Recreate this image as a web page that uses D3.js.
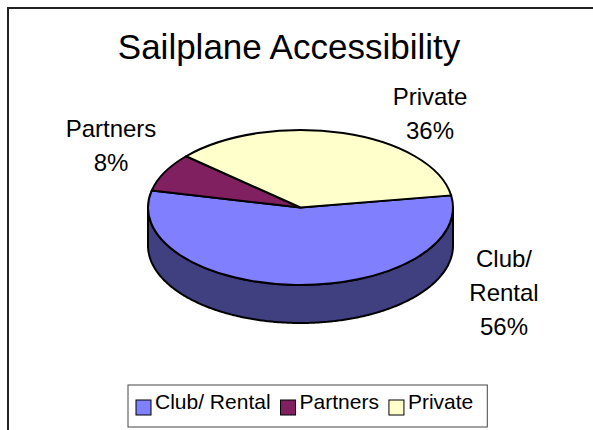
<!DOCTYPE html>
<html><head><meta charset="utf-8">
<script src="https://cdnjs.cloudflare.com/ajax/libs/d3/7.8.5/d3.min.js"></script>
<style>body{margin:0;background:#fff}svg{display:block}text{font-family:Arial,"Liberation Sans",sans-serif;fill:#000}</style>
</head><body>
<svg id="c" width="593" height="430"></svg>
<script>
const categories = ["Club/ Rental", "Partners", "Private"];
const values = [56, 8, 36];
const labelLines = [["Club/", "Rental", "56%"], ["Partners", "8%"], ["Private", "36%"]];
const colors = ["#8080FF", "#802060", "#FFFFCC"];
const sideColors = ["#404080", "#401030", "#808066"];
const title = "Sailplane Accessibility";

const W = 593, H = 430;
const svg = d3.select("#c");
// outer frame (cropped at right/bottom)
svg.append("rect").attr("x", 8).attr("y", 8).attr("width", W + 20).attr("height", H + 20)
  .attr("fill", "#fff").attr("stroke", "#222").attr("stroke-width", 2);

svg.append("text").attr("x", 289).attr("y", 59).attr("text-anchor", "middle")
  .style("font-size", "35px").text(title);

const cx = 300.5, cy = 207.5, rx = 152.5, ry = 77.5, depth = 38;
const start = 81 * Math.PI / 180;
const pie = d3.pie().sort(null).value(d => d).startAngle(start).endAngle(start + 2 * Math.PI);
const arcs = pie(values);

// side walls (front half: d3 angles pi/2 .. 3pi/2, modulo 2pi)
const pt = (a, dy) => [cx + rx * Math.sin(a), cy - ry * Math.cos(a) + dy];
const line = d3.line();
const sides = svg.append("g");
arcs.forEach((d, i) => {
  [-2, 0, 2].forEach(k => {
    const lo = Math.PI / 2 + k * Math.PI, hi = 3 * Math.PI / 2 + k * Math.PI;
    const a0 = Math.max(d.startAngle, lo), a1 = Math.min(d.endAngle, hi);
    if (a1 - a0 <= 1e-6) return;
    const steps = d3.range(a0, a1, 0.01).concat([a1]);
    const top = steps.map(a => pt(a, 0));
    const bot = steps.slice().reverse().map(a => pt(a, depth));
    sides.append("path").attr("d", line(top.concat(bot)) + "Z")
      .attr("fill", sideColors[i]).attr("stroke", "#000").attr("stroke-width", 2)
      .attr("stroke-linejoin", "round");
  });
});

// top faces
const arc = d3.arc().innerRadius(0).outerRadius(rx);
const topG = svg.append("g").attr("transform", `translate(${cx},${cy}) scale(1,${ry / rx})`);
topG.selectAll("path").data(arcs).join("path")
  .attr("d", arc).attr("fill", (d, i) => colors[i])
  .attr("stroke", "#000").attr("stroke-width", 2).attr("vector-effect", "non-scaling-stroke")
  .attr("stroke-linejoin", "round");

// data labels
const labelPos = [[504, 267], [111, 137], [430, 105]];
const lineH = 34;
labelLines.forEach((lines, i) => {
  const t = svg.append("text").attr("text-anchor", "middle").style("font-size", "24px");
  lines.forEach((s, j) => t.append("tspan").attr("x", labelPos[i][0]).attr("y", labelPos[i][1] + j * lineH).text(s));
});

// legend
const lg = svg.append("g");
const box = lg.append("rect").attr("y", 385).attr("height", 42).attr("fill", "#fff")
  .attr("stroke", "#444").attr("stroke-width", 1);
let x = 136;
let lastEnd = 0;
categories.forEach((c, i) => {
  lg.append("rect").attr("x", x).attr("y", 400).attr("width", 15).attr("height", 15)
    .attr("fill", colors[i]).attr("stroke", "#000").attr("stroke-width", 1);
  const t = lg.append("text").attr("x", x + 19).attr("y", 409).style("font-size", "21px").text(c);
  lastEnd = x + 19 + t.node().getComputedTextLength();
  x = lastEnd + 10;
});
box.attr("x", 128).attr("width", lastEnd + 14 - 128);
</script>
</body></html>
